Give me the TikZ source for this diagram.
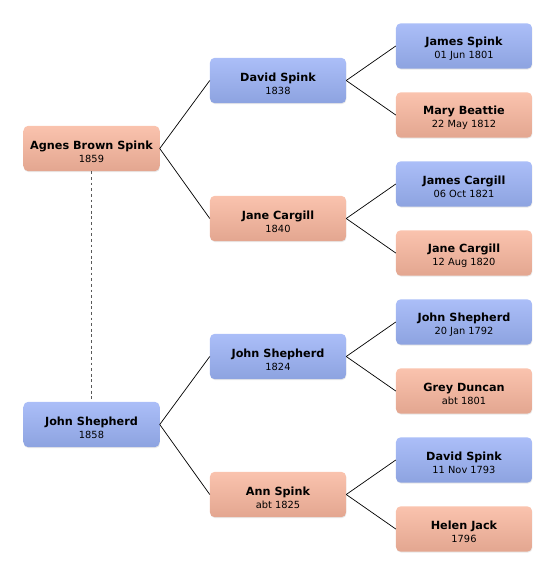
\documentclass[tikz,border=0pt]{standalone}
\usepackage{fontspec}
\setmainfont{DejaVu Sans}
\usetikzlibrary{shadows}

\definecolor{maleTop}{HTML}{ABBEF8}
\definecolor{maleBot}{HTML}{8DA3E0}
\definecolor{femTop}{HTML}{FAC3AE}
\definecolor{femBot}{HTML}{E3A690}

% name over date
\newcommand{\pbox}[2]{{\fontsize{9.6}{11}\bfseries\rule{0pt}{12.5pt}#1}\\[-1pt]{\fontsize{8.4}{10}\selectfont #2}}

\begin{document}
\begin{tikzpicture}[x=0.03cm, y=-0.03cm,
    person/.style={rounded corners=4pt, minimum width=4.08cm, minimum height=1.36cm,
      align=center, inner sep=0pt,
      drop shadow={opacity=0.18, shadow xshift=0.4pt, shadow yshift=-0.8pt}},
    male/.style={person, top color=maleTop, bottom color=maleBot},
    female/.style={person, top color=femTop, bottom color=femBot},
    link/.style={black, line width=0.6pt}]
    \useasboundingbox (0,0) rectangle (556,574);

    % Generation 0
    \node[female] (agnes) at (91.5,148.5) {\pbox{Agnes Brown Spink}{1859}};
    \node[male] (john) at (91.5,424.5) {\pbox{John Shepherd}{1858}};

    % Generation 1
    \node[male] (david) at (278,80.5) {\pbox{David Spink}{1838}};
    \node[female] (jane) at (278,218.5) {\pbox{Jane Cargill}{1840}};
    \node[male] (johnsh) at (278,356.5) {\pbox{John Shepherd}{1824}};
    \node[female] (ann) at (278,494.5) {\pbox{Ann Spink}{abt 1825}};

    % Generation 2
    \foreach \n/\y/\s/\a/\b in {jamesS/46/male/James Spink/01 Jun 1801,
                                maryB/115/female/Mary Beattie/22 May 1812,
                                jamesC/184/male/James Cargill/06 Oct 1821,
                                janeC/253/female/Jane Cargill/12 Aug 1820,
                                johnS/322/male/John Shepherd/20 Jan 1792,
                                greyD/391/female/Grey Duncan/abt 1801,
                                davidS/460/male/David Spink/11 Nov 1793,
                                helenJ/529/female/Helen Jack/1796} {
      \node[\s] (\n) at (464,\y) {\pbox{\a}{\b}};
    }

    % Connectors
    \foreach \p/\c in {agnes/david, agnes/jane, john/johnsh, john/ann,
                       david/jamesS, david/maryB, jane/jamesC, jane/janeC,
                       johnsh/johnS, johnsh/greyD, ann/davidS, ann/helenJ} {
      \draw[link] (\p.east) -- (\c.west);
    }

    % Marriage
    \draw[black!65, line width=1.2pt, dash pattern=on 2.4pt off 2.4pt] (agnes) -- (john);
\end{tikzpicture}
\end{document}
